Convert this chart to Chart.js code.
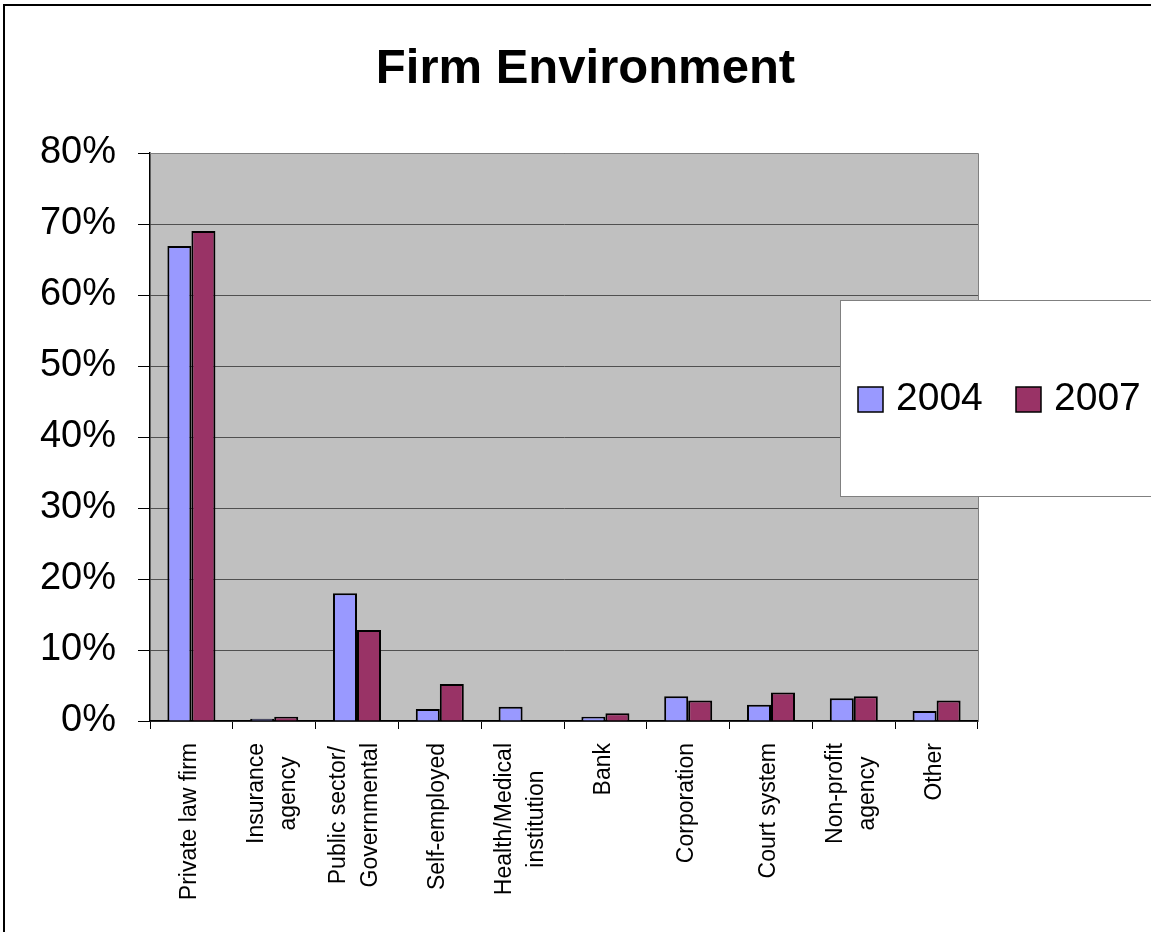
<!DOCTYPE html>
<html>
<head>
<meta charset="utf-8">
<title>Firm Environment</title>
<script src="https://cdn.jsdelivr.net/npm/chart.js@4.4.0/dist/chart.umd.min.js"></script>
<style>
  html, body { margin: 0; padding: 0; background: #fff; }
  #wrap { width: 1151px; height: 932px; }
</style>
</head>
<body>
<div id="wrap"><canvas id="firmChart" width="1151" height="932"></canvas></div>
<script>
const chartTitle = 'Firm Environment';
const categories = [
    'Private law firm',
    ['Insurance', 'agency'],
    ['Public sector/', 'Governmental'],
    'Self-employed',
    ['Health/Medical', 'institution'],
    'Bank',
    'Corporation',
    'Court system',
    ['Non-profit', 'agency'],
    'Other'
];
const seriesNames = ['2004', '2007'];
const values2004 = [66.9, 0.3, 18.0, 1.7, 2.0, 0.6, 3.5, 2.3, 3.2, 1.4];
const values2007 = [69.0, 0.6, 12.8, 5.2, 0, 1.1, 2.9, 4.0, 3.5, 2.9];
const yTicks = [0, 10, 20, 30, 40, 50, 60, 70, 80];

const FONT = 'Arial, "Liberation Sans", sans-serif';

// gray plot area with its border, the outer frame and the title
const plotBackground = {
    id: 'plotBackground',
    beforeDraw(chart) {
        const { ctx, chartArea: a } = chart;
        ctx.save();
        ctx.fillStyle = '#c0c0c0';
        ctx.fillRect(a.left, a.top, a.right - a.left, a.bottom - a.top);
        ctx.restore();
    },
    afterDraw(chart) {
        const { ctx, chartArea: a } = chart;
        ctx.save();
        ctx.strokeStyle = '#808080';
        ctx.lineWidth = 1;
        ctx.beginPath();
        ctx.moveTo(a.left, a.top + 0.5);
        ctx.lineTo(a.right + 0.5, a.top + 0.5);
        ctx.lineTo(a.right + 0.5, a.bottom);
        ctx.stroke();
        ctx.strokeStyle = '#000';
        ctx.lineWidth = 2;
        ctx.strokeRect(4, 5, 3000, 3000);
        ctx.fillStyle = '#000';
        ctx.font = 'bold 49px ' + FONT;
        ctx.textAlign = 'center';
        ctx.textBaseline = 'alphabetic';
        ctx.fillText(chartTitle, 585.5, 83);
        ctx.restore();
    }
};

// vertical category labels, lines centred on each other
const categoryLabels = {
    id: 'categoryLabels',
    afterDraw(chart) {
        const { ctx } = chart;
        const xs = chart.scales.x;
        const top = xs.top + 22;
        const lineGap = 32;
        ctx.save();
        ctx.fillStyle = '#000';
        ctx.font = '23px ' + FONT;
        ctx.textAlign = 'center';
        ctx.textBaseline = 'middle';
        chart.data.labels.forEach((label, i) => {
            const lines = [].concat(label);
            const maxW = Math.max(...lines.map(l => ctx.measureText(l).width));
            const px = xs.getPixelForTick(i) - 2;
            lines.forEach((line, j) => {
                ctx.save();
                ctx.translate(px + (j - (lines.length - 1) / 2) * lineGap, top + maxW / 2);
                ctx.rotate(-Math.PI / 2);
                ctx.fillText(line, 0, 0);
                ctx.restore();
            });
        });
        ctx.restore();
    }
};

// boxed legend sitting over the right edge of the plot
const boxLegend = {
    id: 'boxLegend',
    afterDraw(chart) {
        const { ctx } = chart;
        const x = 840, y = 300, h = 196;
        ctx.save();
        ctx.fillStyle = '#fff';
        ctx.fillRect(x, y, 400, h);
        ctx.strokeStyle = '#808080';
        ctx.lineWidth = 1;
        ctx.strokeRect(x + 0.5, y + 0.5, 400, h);
        ctx.font = '39px ' + FONT;
        ctx.textBaseline = 'middle';
        let cx = x + 18;
        const cy = y + h / 2 + 1;
        chart.data.datasets.forEach(ds => {
            ctx.fillStyle = ds.backgroundColor;
            ctx.fillRect(cx, cy - 12, 25, 25);
            ctx.strokeStyle = '#000';
            ctx.lineWidth = 1.5;
            ctx.strokeRect(cx, cy - 12, 25, 25);
            ctx.fillStyle = '#000';
            ctx.fillText(ds.label, cx + 38, cy);
            cx += 158;
        });
        ctx.restore();
    }
};

const ctx = document.getElementById('firmChart').getContext('2d');
const chart = new Chart(ctx, {
    type: 'bar',
    data: {
        labels: categories,
        datasets: [{
            label: seriesNames[0],
            data: values2004,
            backgroundColor: '#9999ff',
            borderColor: '#000',
            borderWidth: 2
        }, {
            label: seriesNames[1],
            data: values2007,
            backgroundColor: '#993366',
            borderColor: '#000',
            borderWidth: 2
        }]
    },
    options: {
        responsive: false,
        animation: false,
        layout: { padding: { left: 0, top: 153, right: 173, bottom: 0 } },
        datasets: {
            bar: { categoryPercentage: 0.58, barPercentage: 1.0 }
        },
        plugins: {
            legend: { display: false },
            tooltip: { enabled: false },
            title: { display: false }
        },
        scales: {
            x: {
                grid: {
                    offset: true,
                    drawOnChartArea: false,
                    drawTicks: true,
                    tickLength: 8,
                    tickColor: '#000'
                },
                border: { color: '#000', width: 1.5 },
                ticks: { display: false, autoSkip: false },
                afterFit(scale) { scale.height = 211; }
            },
            y: {
                min: 0,
                max: 80,
                afterBuildTicks(scale) { scale.ticks = yTicks.map(v => ({ value: v })); },
                grid: {
                    color: '#505050',
                    lineWidth: 1,
                    tickLength: 12,
                    tickColor: '#000'
                },
                border: { color: '#000', width: 1.5 },
                ticks: {
                    padding: 22,
                    color: '#000',
                    font: { family: FONT, size: 38 },
                    callback: v => v + '%'
                },
                afterFit(scale) { scale.width = 150; }
            }
        }
    },
    plugins: [plotBackground, categoryLabels, boxLegend]
});
</script>
</body>
</html>
